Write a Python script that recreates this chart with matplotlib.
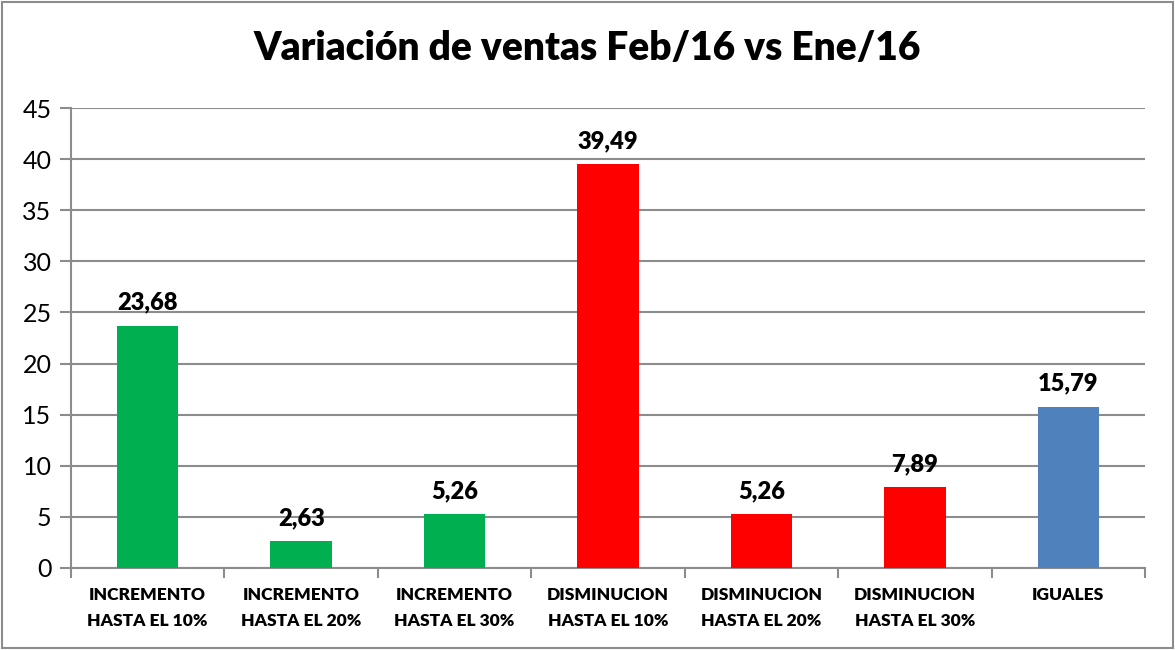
import matplotlib
matplotlib.use('Agg')
from matplotlib import pyplot as plt
from matplotlib.patches import Rectangle

categorias = ['INCREMENTO\nHASTA EL 10%', 'INCREMENTO\nHASTA EL 20%', 'INCREMENTO\nHASTA EL 30%',
              'DISMINUCION\nHASTA EL 10%', 'DISMINUCION\nHASTA EL 20%', 'DISMINUCION\nHASTA EL 30%',
              'IGUALES']
valores = [23.68, 2.63, 5.26, 39.49, 5.26, 7.89, 15.79]
etiquetas = ['23,68', '2,63', '5,26', '39,49', '5,26', '7,89', '15,79']
colores = ['#00B050', '#00B050', '#00B050', '#FF0000', '#FF0000', '#FF0000', '#4F81BD']

plt.rcParams['font.family'] = ['Lato', 'DejaVu Sans']

fig = plt.figure(figsize=(11.75, 6.5), dpi=100)
ax = fig.add_axes([0.0604, 0.1262, 0.9141, 0.7076])

x = list(range(len(valores)))
bars = ax.bar(x, valores, width=0.40, color=colores, zorder=3)
for b, t in zip(bars, etiquetas):
    ax.text(b.get_x() + b.get_width() / 2, b.get_height() + 1.2, t,
            ha='center', va='bottom', fontsize=17, fontweight='heavy', color='black')

ax.set_xlim(-0.5, 6.5)
ax.set_ylim(0, 45)
ax.set_yticks(range(0, 50, 5))
ax.grid(axis='y', color='#8c8c8c', linewidth=1.5, zorder=0)
ax.set_xticks(x)
ax.set_xticklabels(categorias, fontsize=12.5, fontweight='heavy', linespacing=1.75)
ax.set_xticks([i - 0.5 for i in range(len(valores) + 1)], minor=True)
ax.tick_params(axis='x', which='major', length=0, pad=14)
ax.tick_params(axis='x', which='minor', length=7, width=1.5, color='#8c8c8c')
ax.tick_params(axis='y', length=8, width=1.5, color='#8c8c8c', labelsize=18, pad=6)
for s in ['top', 'right']:
    ax.spines[s].set_visible(False)
for s in ['left', 'bottom']:
    ax.spines[s].set_color('#8c8c8c')
    ax.spines[s].set_linewidth(1.5)

fig.text(0.5, 0.925, 'Variación de ventas Feb/16 vs Ene/16', ha='center', va='center',
         fontsize=28, fontweight='heavy')

fig.patches.append(Rectangle((0.002, 0.003), 0.996, 0.994, transform=fig.transFigure,
                             fill=False, edgecolor='#8c8c8c', linewidth=1.5))

plt.savefig('out.png', dpi=100)
